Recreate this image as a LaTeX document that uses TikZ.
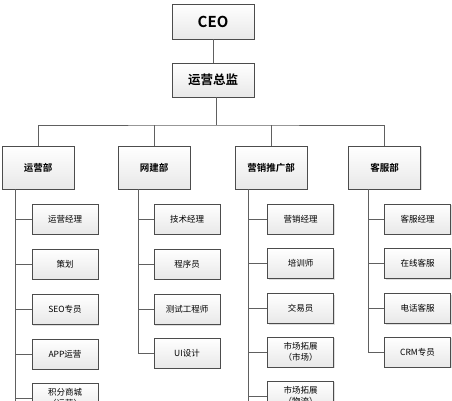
\documentclass[tikz,border=0pt]{standalone}
\usepackage{fontspec}
\setmainfont{Noto Sans CJK SC}[BoldFont=* Bold]
\usetikzlibrary{shadows}
\begin{document}
\begin{tikzpicture}[x=1pt, y=-1pt]
\tikzset{box/.style={draw=gray!60!black, line width=0.7pt, top color=white, bottom color=gray!18, drop shadow={shadow xshift=1.2pt, shadow yshift=-1.2pt, opacity=0.25}, inner sep=1pt, align=center}}
\tikzset{topbox/.style={box, minimum width=82pt, minimum height=35pt, font=\bfseries\fontsize{15}{17}\selectfont}}
\tikzset{deptbox/.style={box, minimum width=72pt, minimum height=43pt, font=\bfseries\fontsize{9.5}{11}\selectfont}}
\tikzset{subbox/.style={box, minimum width=66pt, minimum height=30pt, font=\fontsize{8.5}{10.5}\selectfont}}
\tikzset{link/.style={draw=gray!75!black, line width=0.8pt}}
\clip (0,0) rectangle (452,400);
\fill[white] (0,0) rectangle (452,400);

\node[topbox] (ceo) at (213,21.5) {CEO};
\node[topbox, font=\bfseries\fontsize{12.5}{14}\selectfont, minimum height=34pt] (zj) at (213,80) {运营总监};

\node[deptbox] (d1) at (38,167.5) {运营部};
\node[deptbox] (d2) at (154,167.5) {网建部};
\node[deptbox] (d3) at (271,167.5) {营销推广部};
\node[deptbox] (d4) at (384.5,167.5) {客服部};

% 运营部
\node[subbox] (s11) at (65,219) {运营经理};
\node[subbox] (s12) at (65,264) {策划};
\node[subbox] (s13) at (65,309.5) {SEO专员};
\node[subbox] (s14) at (65,354) {APP运营};
\node[subbox] (s15) at (65,398) {积分商城\\（运营）};
% 网建部
\node[subbox] (s21) at (187,219) {技术经理};
\node[subbox] (s22) at (187,264) {程序员};
\node[subbox] (s23) at (187,309.5) {测试工程师};
\node[subbox] (s24) at (187,353) {UI设计};
% 营销推广部
\node[subbox] (s31) at (300.5,219) {营销经理};
\node[subbox] (s32) at (300.5,263.5) {培训师};
\node[subbox] (s33) at (300.5,308.5) {交易员};
\node[subbox] (s34) at (300.5,352) {市场拓展\\（市场）};
\node[subbox] (s35) at (300.5,396) {市场拓展\\（物流）};
% 客服部
\node[subbox] (s41) at (417.5,219) {客服经理};
\node[subbox] (s42) at (417.5,263.5) {在线客服};
\node[subbox] (s43) at (417.5,308.5) {电话客服};
\node[subbox] (s44) at (417.5,352) {CRM专员};

\coordinate (bus) at (216,125);
\coordinate (t1) at (15,189);
\coordinate (t2) at (138,189);
\coordinate (t3) at (248,189);
\coordinate (t4) at (368,189);
\coordinate (e1) at (15,405);
\coordinate (e3) at (248,405);

\draw[link] (ceo) -- (zj);
\draw[link] (zj.south -| bus) -- (bus);
\draw[link] (d1.north) |- (bus) -| (d4.north);
\draw[link] (d2.north) -- (d2.north |- bus);
\draw[link] (d3.north) -- (d3.north |- bus);

\draw[link] (t1) -- (e1);
\draw[link] (t1 |- s11.west) -- (s11.west);
\draw[link] (t1 |- s12.west) -- (s12.west);
\draw[link] (t1 |- s13.west) -- (s13.west);
\draw[link] (t1 |- s14.west) -- (s14.west);
\draw[link] (t1 |- s15.west) -- (s15.west);

\draw[link] (t2) |- (s24.west);
\draw[link] (t2 |- s21.west) -- (s21.west);
\draw[link] (t2 |- s22.west) -- (s22.west);
\draw[link] (t2 |- s23.west) -- (s23.west);

\draw[link] (t3) -- (e3);
\draw[link] (t3 |- s31.west) -- (s31.west);
\draw[link] (t3 |- s32.west) -- (s32.west);
\draw[link] (t3 |- s33.west) -- (s33.west);
\draw[link] (t3 |- s34.west) -- (s34.west);
\draw[link] (t3 |- s35.west) -- (s35.west);

\draw[link] (t4) |- (s44.west);
\draw[link] (t4 |- s41.west) -- (s41.west);
\draw[link] (t4 |- s42.west) -- (s42.west);
\draw[link] (t4 |- s43.west) -- (s43.west);
\end{tikzpicture}
\end{document}
